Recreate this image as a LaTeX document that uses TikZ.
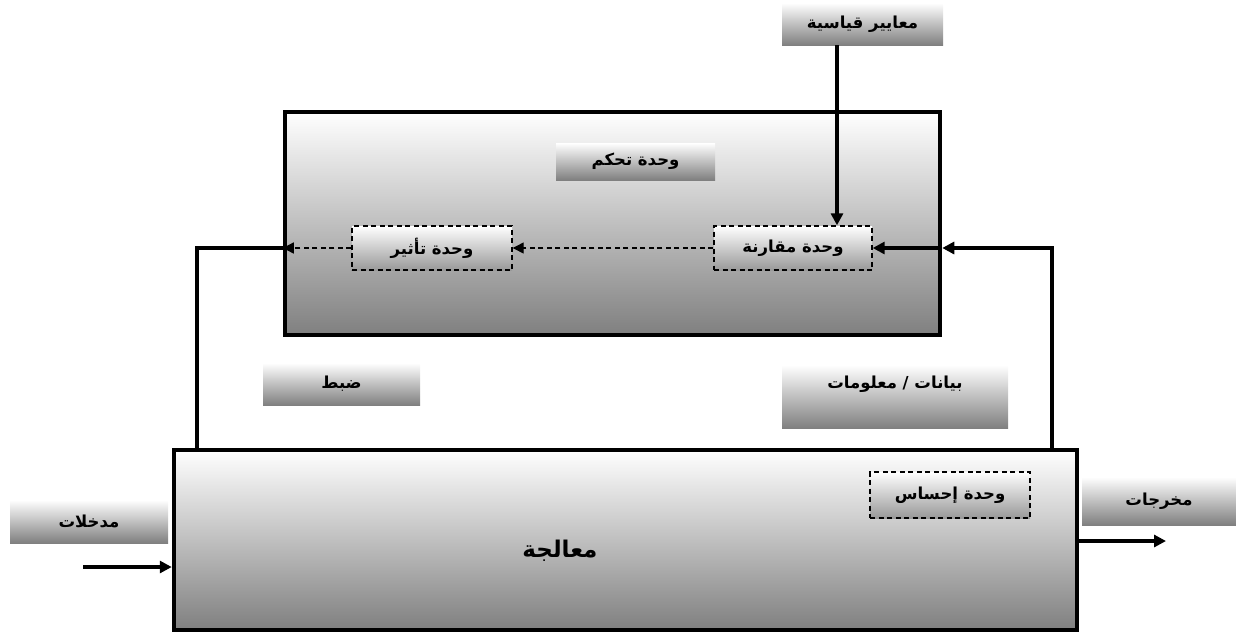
\documentclass[tikz,border=0pt]{standalone}
\usepackage{fontspec}
\usetikzlibrary{arrows.meta}
\TeXXeTstate=1
\newfontfamily\arabicfont[Script=Arabic]{DejaVu Sans}
\newcommand{\ar}[1]{\arabicfont\bfseries\beginR #1\endR}

\tikzset{
  x=1pt, y=-1pt,
  shadebox/.style={rectangle, inner sep=0pt, top color=white, bottom color=black!50},
  label/.style={shadebox, font=\fontsize{16.5}{18}\selectfont},
  bigbox/.style={shadebox, draw=black, line width=4.5pt},
  unitbox/.style={rectangle, inner sep=0pt, draw=black, dash pattern=on 5pt off 3.5pt,
    line width=1.4pt, top color=white, bottom color=black!40,
    font=\fontsize{16.5}{18}\selectfont},
  conn/.style={draw=black, line width=3.5pt},
  tip/.style={-{Triangle[length=12pt,width=12pt]}},
  dconn/.style={draw=black, dash pattern=on 5pt off 3.5pt, line width=1.3pt,
    -{Triangle[length=11pt,width=11pt]}},
}

\begin{document}
\begin{tikzpicture}
\useasboundingbox (0,0) rectangle (1236,633);

% main blocks
\node[bigbox, minimum width=655pt, minimum height=223pt] (ctrl) at (612.5,223.5) {};
\node[bigbox, minimum width=903pt, minimum height=180pt] (proc) at (625.5,540) {};

% units inside the blocks
\node[unitbox, minimum width=158pt, minimum height=44pt] (cmp) at (793,248) {\ar{وحدة مقارنة}};
\node[unitbox, minimum width=160pt, minimum height=44pt] (eff) at (432,248) {\ar{وحدة تأثير}};
\node[unitbox, minimum width=160pt, minimum height=46pt] (sens) at (950,495) {\ar{وحدة إحساس}};

% shaded captions
\node[label, minimum width=161pt, minimum height=42pt] (std) at (862.5,24) {\ar{معايير قياسية}};
\node[label, minimum width=159pt, minimum height=37pt] (ctrllbl) at (635.5,161.5) {\ar{وحدة تحكم}};
\node[label, minimum width=157pt, minimum height=42pt] (adj) at (341.5,384) {\ar{ضبط}};
\node[shadebox, minimum width=226pt, minimum height=63pt] (data) at (895,396.5) {};
\node[font=\fontsize{16.5}{18}\selectfont, inner sep=0pt] (datatxt) at (895,384) {\ar{بيانات / معلومات}};
\node[label, minimum width=154pt, minimum height=48pt] (out) at (1159,501) {\ar{مخرجات}};
\node[label, minimum width=158pt, minimum height=43pt] (in) at (89,521.5) {\ar{مدخلات}};
\node[font=\fontsize{23}{26}\selectfont, inner sep=0pt] (proclbl) at (560,551) {\ar{معالجة}};

% anchor points for the connectors
\coordinate (stdx) at (837,0);
\coordinate (fbR) at (1052,248);
\coordinate (fbL) at (197,248);
\coordinate (inS) at (83,567);
\coordinate (outE) at (1166,541);

% standards into the comparison unit
\draw[conn, tip] (std.south -| stdx) -- (cmp.north -| stdx);

% feedback from processing to the control unit
\draw[conn, tip] (proc.north -| fbR) -- (fbR) -- (ctrl.east |- fbR);
\draw[conn, tip] (ctrl.east |- cmp) -- (cmp.east);

% control signal path
\draw[dconn] (cmp.west) -- (eff.east);
\draw[dconn] (eff.west) -- (ctrl.west |- eff);
\draw[conn] (ctrl.west |- fbL) -- (fbL) -- (proc.north -| fbL);

% inputs and outputs
\draw[conn, tip] (inS) -- (proc.west |- inS);
\draw[conn, tip] (proc.east |- outE) -- (outE);
\end{tikzpicture}
\end{document}
